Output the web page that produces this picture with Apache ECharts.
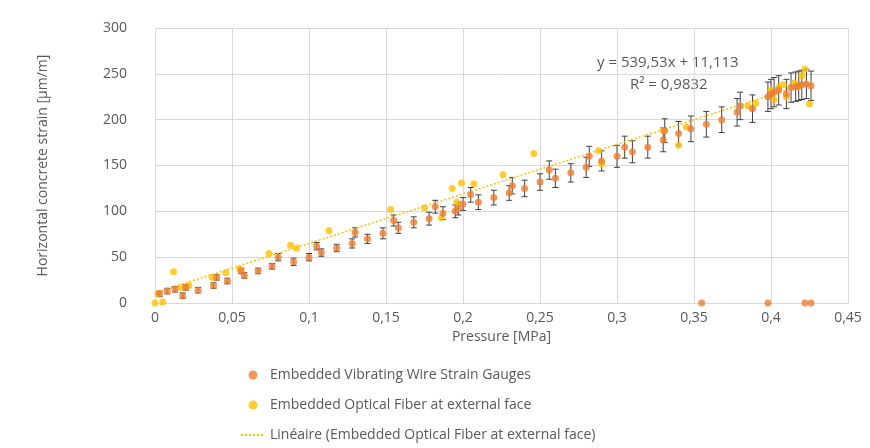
<!DOCTYPE html>
<html><head><meta charset="utf-8">
<script src="https://cdn.jsdelivr.net/npm/echarts@6/dist/echarts.min.js"></script>
<style>html,body{margin:0;background:#fff}#main{width:870px;height:448px}</style>
</head><body><div id="main"></div>
<script>
// vibrating wire gauges: pressure, strain, error
var vwX = [0.003,0.008,0.013,0.018,0.02,0.028,0.038,0.04,0.047,0.056,0.058,0.067,0.076,0.08,0.09,0.1,0.105,0.108,0.118,0.128,0.13,0.138,0.148,0.155,0.158,0.168,0.178,0.182,0.187,0.195,0.197,0.2,0.205,0.21,0.22,0.23,0.232,0.24,0.25,0.256,0.26,0.27,0.28,0.282,0.29,0.3,0.305,0.31,0.32,0.33,0.331,0.34,0.348,0.358,0.368,0.378,0.38,0.388,0.398,0.4,0.402,0.405,0.41,0.413,0.416,0.418,0.42,0.423,0.426,0.355,0.398,0.422,0.426];
var vwY = [10,13,15,8,17,14,19,28,24,35,30,35,40,50,45,50,62,55,60,65,77,70,76,90,82,88,92,105,98,100,103,108,118,110,115,120,128,125,132,145,136,142,148,160,155,160,170,165,170,178,188,185,190,195,200,208,215,212,225,228,230,232,228,235,236,237,238,239,237,0,0,0,0];
var vwErr = [3,3,3,3,3,3,3,3,3,3,3,3,3,4,4,4,4,4,4,5,5,5,6,6,6,6,7,7,7,7,7,7,8,8,8,8,9,9,9,10,10,10,11,11,11,12,12,12,12,13,13,13,14,14,14,15,15,15,16,16,16,16,16,16,16,16,16,16,16,0,0,0,0];
// optical fiber
var ofX = [0,0.002,0.005,0.012,0.017,0.022,0.037,0.046,0.055,0.074,0.088,0.092,0.113,0.153,0.175,0.186,0.193,0.196,0.199,0.207,0.226,0.246,0.288,0.29,0.33,0.34,0.345,0.385,0.39,0.4,0.402,0.405,0.408,0.41,0.415,0.418,0.42,0.422,0.425];
var ofY = [0,10,1,34,17,19,28,33,37,54,63,60,79,102,104,93,125,110,131,130,140,163,166,152,188,172,192,215,218,232,222,235,238,225,240,236,248,255,217];
var trendA = 539.53, trendB = 11.113;

var fmt = function (v) { return String(v).replace('.', ','); };
var vwData = vwX.map(function (x, i) { return [x, vwY[i]]; });
var ofData = ofX.map(function (x, i) { return [x, ofY[i]]; });
var errData = vwX.map(function (x, i) { return [x, vwY[i] - vwErr[i], vwY[i] + vwErr[i]]; }).filter(function (d) { return d[2] > d[1]; });

var chart = echarts.init(document.getElementById('main'));
chart.setOption({
    animation: false,
    textStyle: { fontFamily: 'Open Sans' },
    grid: { left: 155, right: 22, top: 28, bottom: 145 },
    xAxis: {
        type: 'value', min: 0, max: 0.45, interval: 0.05,
        name: 'Pressure [MPa]', nameLocation: 'middle', nameGap: 27,
        nameTextStyle: { color: '#595959', fontSize: 14 },
        axisLine: { lineStyle: { color: '#d9d9d9' } }, axisTick: { show: false },
        axisLabel: { color: '#595959', fontSize: 14, formatter: fmt },
        splitLine: { lineStyle: { color: '#d9d9d9' } }
    },
    yAxis: {
        type: 'value', min: 0, max: 300, interval: 50,
        name: 'Horizontal concrete strain [µm/m]', nameLocation: 'middle', nameGap: 105,
        nameTextStyle: { color: '#595959', fontSize: 14 },
        axisLine: { show: false }, axisTick: { show: false },
        axisLabel: { color: '#595959', fontSize: 14, margin: 28 },
        splitLine: { lineStyle: { color: '#d9d9d9' } }
    },
    legend: {
        orient: 'vertical', left: 235, top: 363, height: 100, itemGap: 16, itemWidth: 24, itemHeight: 9,
        textStyle: { color: '#595959', fontSize: 14 },
        data: [
            { name: 'Embedded Vibrating Wire Strain Gauges', icon: 'circle' },
            { name: 'Embedded Optical Fiber at external face', icon: 'circle' },
            { name: 'Linéaire (Embedded Optical Fiber at external face)', itemStyle: { opacity: 0 } }
        ]
    },
    series: [
        {
            type: 'custom', silent: true, z: 1,
            renderItem: function (params, api) {
                var lo = api.coord([api.value(0), api.value(1)]);
                var hi = api.coord([api.value(0), api.value(2)]);
                var s = { stroke: '#404040', lineWidth: 1 };
                return { type: 'group', children: [
                    { type: 'line', shape: { x1: lo[0], y1: lo[1], x2: hi[0], y2: hi[1] }, style: s },
                    { type: 'line', shape: { x1: lo[0] - 3, y1: lo[1], x2: lo[0] + 3, y2: lo[1] }, style: s },
                    { type: 'line', shape: { x1: hi[0] - 3, y1: hi[1], x2: hi[0] + 3, y2: hi[1] }, style: s }
                ] };
            },
            data: errData
        },
        {
            name: 'Linéaire (Embedded Optical Fiber at external face)', type: 'line', z: 2,
            symbol: 'none', color: '#ffc000',
            lineStyle: { type: [2, 2], width: 1.5, color: '#ffc000' },
            data: [[0, trendB], [0.426, trendA * 0.426 + trendB]]
        },
        {
            name: 'Embedded Optical Fiber at external face', type: 'scatter', z: 3,
            symbolSize: 7, itemStyle: { color: '#ffc000' }, data: ofData
        },
        {
            name: 'Embedded Vibrating Wire Strain Gauges', type: 'scatter', z: 4,
            symbolSize: 7, itemStyle: { color: '#ed7d31' }, data: vwData
        }
    ],
    graphic: [
        { type: 'text', left: 597, top: 55, style: { text: 'y = 539,53x + 11,113', fill: '#595959', font: '15px Open Sans' } },
        { type: 'text', left: 630, top: 77, style: { text: 'R² = 0,9832', fill: '#595959', font: '15px Open Sans' } }
    ]
});
</script></body></html>
